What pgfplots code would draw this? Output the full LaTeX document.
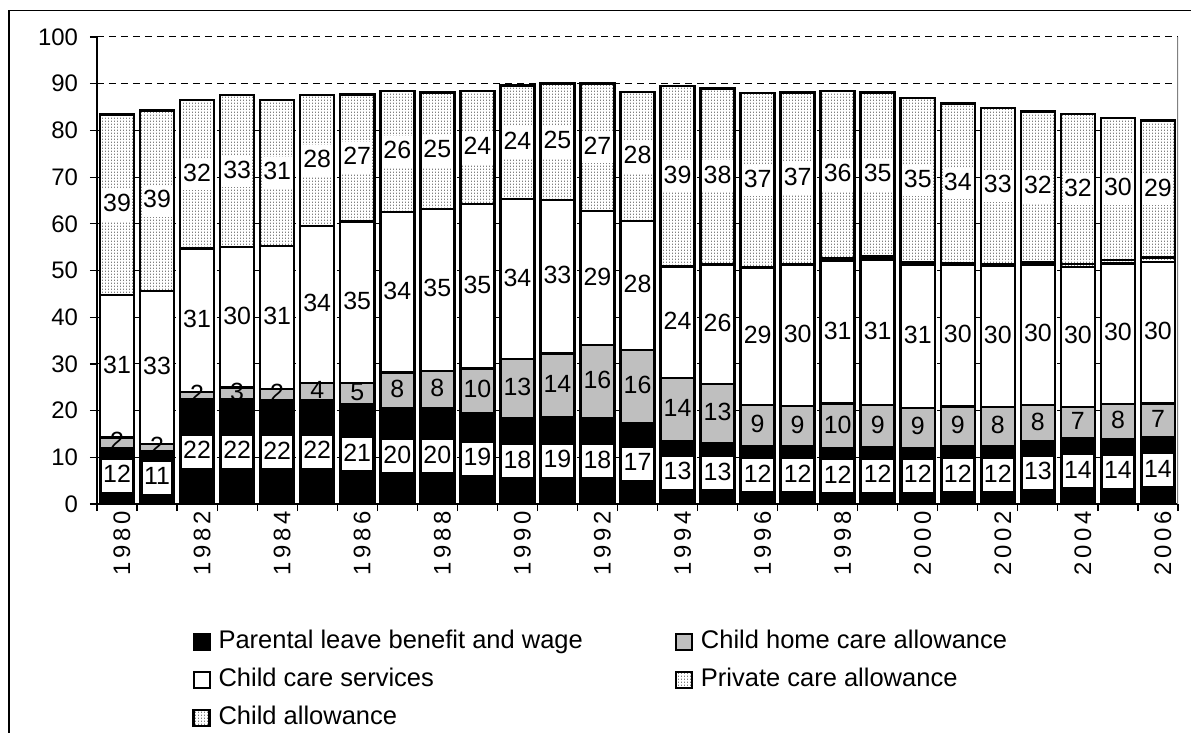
\documentclass[border=0pt]{standalone}
\usepackage{fontspec}
\setmainfont{Liberation Sans}
\usepackage{pgfplots}
\pgfplotsset{compat=1.18}
\usepackage{pgfplotstable}
\usetikzlibrary{patterns}

\pgfdeclarepatternformonly{finedots}{\pgfqpoint{0bp}{0bp}}{\pgfqpoint{1.5bp}{1.5bp}}{\pgfqpoint{1.5bp}{1.5bp}}{%
  \pgfpathrectangle{\pgfqpoint{0bp}{0bp}}{\pgfqpoint{0.5bp}{0.7bp}}\pgfusepath{fill}}

\pgfplotstableread{
x year pl ch cc pc ca
0 1980 12.0 2.2 30.6 0 38.6
1 1981 11.2 1.6 32.8 0 38.7
2 1982 22.4 1.6 30.7 0 31.8
3 1983 22.4 2.6 30.0 0 32.6
4 1984 22.2 2.4 30.7 0 31.2
5 1985 22.3 3.6 33.6 0 28.1
6 1986 21.3 4.6 34.6 0 27.2
7 1987 20.4 7.8 34.3 0 25.9
8 1988 20.4 8.1 34.7 0 24.9
9 1989 19.4 9.6 35.2 0 24.2
10 1990 18.4 12.6 34.3 0 24.3
11 1991 18.6 13.6 32.9 0 24.9
12 1992 18.4 15.6 28.7 0 27.3
13 1993 17.3 15.7 27.6 0 27.6
14 1994 13.4 13.6 23.9 0 38.6
15 1995 13.1 12.6 25.6 0 37.7
16 1996 12.4 8.8 29.4 0 37.4
17 1997 12.4 8.6 30.2 0.2 36.7
18 1998 11.9 9.6 30.6 0.6 35.7
19 1999 12.2 9.0 31.2 0.6 35.1
20 2000 12.0 8.6 30.6 0.5 35.2
21 2001 12.3 8.6 30.3 0.4 34.2
22 2002 12.4 8.4 30.2 0.4 33.4
23 2003 13.4 7.8 30.0 0.5 32.4
24 2004 14.1 6.7 30.0 0.6 32.1
25 2005 13.8 7.6 30.1 0.8 30.4
26 2006 14.4 7.1 30.3 1.0 29.3
}\data

\pgfplotsset{
  frame geometry/.style={at={(0,0)}, anchor=south west,
    scale only axis, width=540.5bp, height=233.5bp,
    xmin=-0.5, xmax=26.5, ymin=0, ymax=100,
    /pgf/number format/assume math mode=true},
  lab/.style={draw=none, mark=none, point meta=explicit,
    nodes near coords={\pgfmathprintnumber[fixed,precision=0,assume math mode=true]{\pgfplotspointmeta}},
    every node near coord/.append style={anchor=center,
      font=\fontsize{12.5}{14}\selectfont, text=black, inner xsep=0.7bp, inner ysep=1.5bp,
      text height=10bp, text depth=3bp, #1}},
  sqlegend/.style={legend image code/.code={\draw[##1, line width=1bp] (0bp,-4bp) rectangle (8bp,4bp);}},
}

\begin{document}
\begin{tikzpicture}
\useasboundingbox (-48.5bp,-114.5bp) rectangle (547bp,252bp);
\draw[line width=0.75bp] (-44bp,-116bp) -- (-44bp,246.75bp) -- (548bp,246.75bp);
\begin{axis}[
  frame geometry,
  ybar stacked, bar width=0.85,
  axis x line*=bottom, axis y line*=left,
  axis line style={line width=0.6bp, -},
  tick align=outside, major tick length=3.5bp,
  tick style={black, line width=0.6bp},
  xtick={-0.5,0.5,...,26.5}, xticklabels={},
  extra x ticks={0,2,...,26},
  extra x tick labels={1980,1982,1984,1986,1988,1990,1992,1994,1996,1998,2000,2002,2004,2006},
  extra x tick style={major tick length=0pt, grid=none,
    xticklabel style={rotate=90, anchor=east, yshift=-2.5bp,
      font=\fontsize{12}{14}\selectfont\addfontfeature{LetterSpace=16}}},
  ytick={0,10,...,100},
  yticklabel style={font=\fontsize{12}{14}\selectfont, xshift=-2.5bp},
  ymajorgrids,
  major grid style={black, line width=0.5bp, dash pattern=on 3.5bp off 2.5bp},
  legend columns=2,
  legend style={draw=none, fill=none, inner sep=0pt, at={(0.088,-0.266)}, anchor=north west,
    font=\fontsize{12.8}{15}\selectfont, legend cell align=left,
    nodes={inner sep=1bp, text height=9bp, text depth=2.5bp},
    /tikz/every odd column/.append style={column sep=3bp},
    /tikz/every even column/.append style={column sep=45bp},
    row sep=5.5bp},
]
\addplot+[fill=black, draw=black, line width=1.25bp, sqlegend]
  table[x=x, y=pl] {\data};
\addlegendentry{Parental leave benefit and wage}
\addplot+[fill=black!25, draw=black, line width=1.25bp, sqlegend]
  table[x=x, y=ch] {\data};
\addlegendentry{Child home care allowance}
\addplot+[fill=white, draw=black, line width=1.25bp, sqlegend]
  table[x=x, y=cc] {\data};
\addlegendentry{Child care services}
\addplot+[preaction={fill=white}, pattern=finedots, pattern color=black!50, draw=black, line width=1.25bp, sqlegend]
  table[x=x, y=pc] {\data};
\addlegendentry{Private care allowance}
\addplot+[preaction={fill=white}, pattern=finedots, pattern color=black!50, draw=black, line width=1.25bp, sqlegend]
  table[x=x, y=ca] {\data};
\addlegendentry{Child allowance}
\draw[black!50, line width=0.75bp] (rel axis cs:1,0) -- (rel axis cs:1,1);
\end{axis}
\begin{axis}[frame geometry, hide axis, clip=false]
\addplot[lab={fill=white}] table[x=x, y expr=\thisrow{pl}/2, meta=pl] {\data};
\addplot[lab={fill=none}] table[x=x, y expr=\thisrow{pl}+\thisrow{ch}/2, meta=ch] {\data};
\addplot[lab={fill=white}] table[x=x, y expr=\thisrow{pl}+\thisrow{ch}+\thisrow{cc}/2, meta=cc] {\data};
\addplot[lab={fill=white}] table[x=x, y expr=\thisrow{pl}+\thisrow{ch}+\thisrow{cc}+\thisrow{pc}+\thisrow{ca}/2, meta=ca] {\data};
\end{axis}
\end{tikzpicture}
\end{document}
